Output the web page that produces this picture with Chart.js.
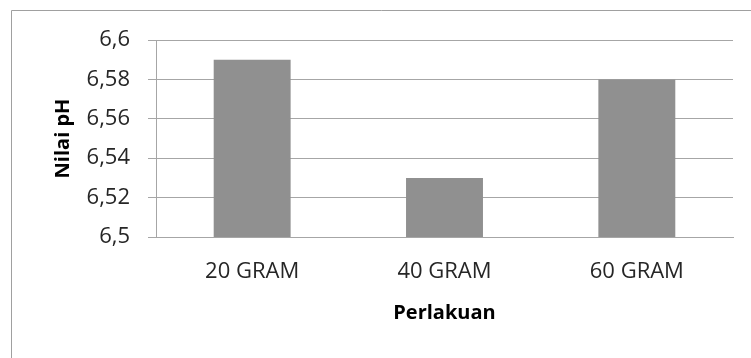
<!DOCTYPE html>
<html>
<head>
<meta charset="utf-8">
<script src="https://cdn.jsdelivr.net/npm/chart.js@4"></script>
<style>
  html, body { margin: 0; padding: 0; background: #ffffff; }
  #wrap { width: 751px; height: 358px; position: relative; }
</style>
</head>
<body>
<div id="wrap"><canvas id="chart" width="751" height="358"></canvas></div>
<script>
// pH per treatment
const categories = ['20 GRAM', '40 GRAM', '60 GRAM'];
const phValues = [6.59, 6.53, 6.58];
const yMin = 6.5;
const yMax = 6.6;
const yStep = 0.02;

const FONT = '"Open Sans", Lato, sans-serif';
const GRID = '#a6a6a6';

// light frame around the chart area
const framePlugin = {
  id: 'frame',
  beforeDraw(chart) {
    const ctx = chart.ctx;
    ctx.save();
    ctx.strokeStyle = '#a0a0a0';
    ctx.lineWidth = 1;
    ctx.beginPath();
    ctx.moveTo(11.5, 400);
    ctx.lineTo(11.5, 10.5);
    ctx.lineTo(800, 10.5);
    ctx.stroke();
    ctx.restore();
  }
};

new Chart(document.getElementById('chart'), {
  type: 'bar',
  data: {
    labels: categories,
    datasets: [{
      label: 'Nilai pH',
      data: phValues,
      backgroundColor: '#909090',
      borderWidth: 0,
      barPercentage: 0.8,
      categoryPercentage: 0.5
    }]
  },
  options: {
    responsive: false,
    animation: false,
    devicePixelRatio: 1,
    layout: { padding: { top: 40, right: 18, bottom: 0, left: 0 } },
    plugins: {
      legend: { display: false },
      tooltip: { enabled: false }
    },
    scales: {
      x: {
        grid: { display: false, drawTicks: false },
        border: { display: true, color: GRID, width: 1 },
        ticks: { color: '#262626', font: { family: FONT, size: 22 }, padding: 22 },
        title: {
          display: true,
          text: 'Perlakuan',
          color: '#000000',
          font: { family: FONT, size: 20, weight: 'bold' },
          padding: { top: 0, bottom: 33 }
        },
        afterFit(scale) { scale.height = 358 - 237; }
      },
      y: {
        min: yMin,
        max: yMax,
        grid: { color: GRID, lineWidth: 1, tickLength: 8, drawTicks: true },
        border: { display: true, color: GRID, width: 1 },
        ticks: {
          stepSize: yStep,
          color: '#262626',
          font: { family: FONT, size: 22 },
          padding: 18,
          callback: (v) => String(Math.round(v * 100) / 100).replace('.', ',')
        },
        title: {
          display: true,
          text: 'Nilai pH',
          color: '#000000',
          font: { family: FONT, size: 20, weight: 'bold' },
          padding: { top: 51, bottom: 0 }
        },
        afterFit(scale) { scale.width = 156; }
      }
    }
  },
  plugins: [framePlugin]
});
</script>
</body>
</html>
